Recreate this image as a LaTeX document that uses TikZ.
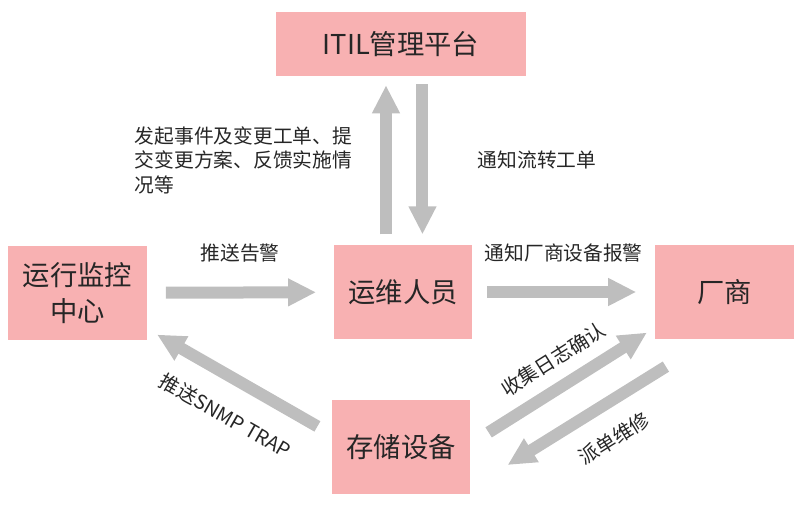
\documentclass[tikz,border=0pt]{standalone}
\usepackage{fontspec}
\setmainfont{Noto Sans CJK SC}
\usetikzlibrary{positioning,calc,arrows.meta}
\definecolor{boxpink}{HTML}{F8B1B2}
\definecolor{arrowgray}{HTML}{BEBEBE}

\begin{document}
\begin{tikzpicture}[
  x=0.75pt, y=-0.75pt,
  box/.style={rectangle, fill=boxpink, minimum width=104pt, minimum height=71pt,
    align=center, inner sep=0pt, text=black!85,
    font=\fontsize{20.5}{26.5}\selectfont},
  blk/.style={-{Triangle[width=19.5pt,length=21pt]}, line width=9pt, draw=arrowgray},
  lab/.style={font=\fontsize{14.8}{18.4}\selectfont, text=black!85, inner sep=0pt}
]
\useasboundingbox (0,0) rectangle (805,508);
% Boxes
\node[box, minimum width=187.5pt, minimum height=48pt] (itil) at (401,44) {ITIL管理平台};
\node[box] (ops)    at (403,292)   {运维人员};
\node[box] (mon)    at (77.5,293)  {运行监控\\中心};
\node[box] (vendor) at (724.5,292) {厂商};
\node[box] (store)  at (401,447)   {存储设备};
% Horizontal arrows
\draw[blk, shorten <=14pt, shorten >=13pt] (mon) -- (ops)
  node[lab, midway, above=18pt] {推送告警};
\draw[blk, shorten <=11pt, shorten >=14pt] (ops) -- (vendor)
  node[lab, midway, above=18pt] {通知厂商设备报警};
% Vertical arrows between ops and ITIL
\coordinate (upfoot)   at ([xshift=-12.75pt]ops.north);
\coordinate (downfoot) at ([xshift=14.6pt]ops.north);
\draw[blk, shorten <=7.5pt, shorten >=6.75pt] (upfoot) -- (upfoot |- itil.south)
  node[lab, midway, left=21pt, align=left]
  {发起事件及变更工单、提\\交变更方案、反馈实施情\\况等};
\draw[blk, shorten <=6pt, shorten >=7.5pt] (downfoot |- itil.south) -- (downfoot)
  node[lab, midway, right=37pt] {通知流转工单};
% Diagonal arrows
\draw[blk] ([shift={(-14,27)}]store.north west) -- ([shift={(10,-6)}]mon.south east)
  node[lab, pos=0.46, sloped, below=16pt] {推送SNMP TRAP};
\draw[blk] ([shift={(18,33)}]store.north east) -- ([shift={(-8,-7)}]vendor.south west)
  node[lab, midway, sloped, above=9pt] {收集日志确认};
\draw[blk] ([shift={(11,27)}]vendor.south west) -- ([shift={(37,18)}]store.east)
  node[lab, pos=0.44, sloped, below=14pt] {派单维修};
\end{tikzpicture}
\end{document}
